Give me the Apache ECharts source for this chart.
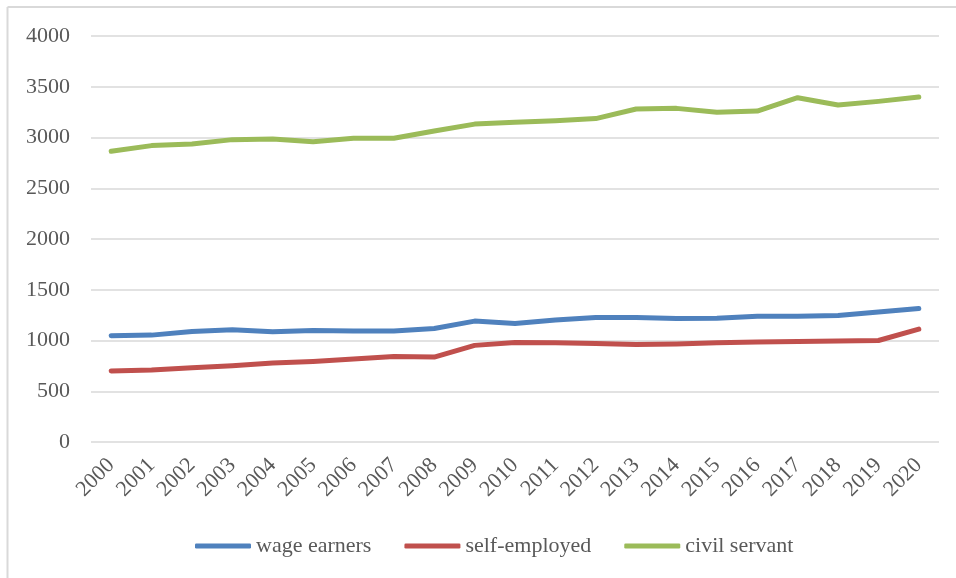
<!DOCTYPE html>
<html>
<head>
<meta charset="utf-8">
<script src="https://cdn.jsdelivr.net/npm/echarts@6/dist/echarts.min.js"></script>
<style>
html,body{margin:0;padding:0;background:#fff;}
#chart{width:956px;height:578px;}
</style>
</head>
<body>
<div id="chart"></div>
<script>
const years = ['2000','2001','2002','2003','2004','2005','2006','2007','2008','2009','2010','2011','2012','2013','2014','2015','2016','2017','2018','2019','2020'];
const wageEarners = [1046,1053,1089,1105,1086,1099,1093,1093,1119,1191,1168,1201,1227,1227,1217,1220,1240,1240,1247,1280,1316];
const selfEmployed = [699,709,731,751,778,794,817,843,837,952,981,978,971,961,965,977,984,991,994,1000,1112];
const civilServant = [2864,2920,2936,2979,2985,2959,2992,2992,3064,3132,3150,3166,3186,3281,3287,3248,3261,3392,3320,3356,3399];
const seriesNames = ['wage earners','self-employed','civil servant'];
const yTicks = {min:0, max:4000, interval:500};

const font = "'Liberation Serif', 'DejaVu Serif', serif";
const textColor = '#595959';
const chart = echarts.init(document.getElementById('chart'), null, {renderer:'canvas'});
const mk = (name, data, color) => ({
  name, type:'line', data, symbol:'none', smooth:false,
  lineStyle:{width:5, color, cap:'round', join:'round'},
  itemStyle:{color}
});
chart.setOption({
  animation:false,
  backgroundColor:'#fff',
  graphic:[
    {type:'line', shape:{x1:7.5,y1:7,x2:956,y2:7}, style:{stroke:'#d9d9d9', lineWidth:2}},
    {type:'line', shape:{x1:7.5,y1:7,x2:7.5,y2:578}, style:{stroke:'#d9d9d9', lineWidth:2}}
  ],
  grid:{left:91, right:17, top:36, bottom:136, containLabel:false},
  legend:{
    data:seriesNames, bottom:16, left:190,
    icon:'roundRect', itemWidth:56, itemHeight:5, itemGap:33,
    textStyle:{fontFamily:font, fontSize:22, color:textColor}
  },
  xAxis:{
    type:'category', data:years, boundaryGap:true,
    axisLine:{show:false}, axisTick:{show:false},
    axisLabel:{rotate:45, margin:20, fontFamily:font, fontSize:22, color:textColor, interval:0}
  },
  yAxis:{
    type:'value', min:yTicks.min, max:yTicks.max, interval:yTicks.interval,
    axisLine:{show:false}, axisTick:{show:false},
    axisLabel:{margin:21, fontFamily:font, fontSize:22, color:textColor, formatter:v => String(v)},
    splitLine:{lineStyle:{color:'#d9d9d9', width:1.5}}
  },
  series:[
    mk(seriesNames[0], wageEarners, '#4f81bd'),
    mk(seriesNames[1], selfEmployed, '#c0504d'),
    mk(seriesNames[2], civilServant, '#9bbb59')
  ]
});
</script>
</body>
</html>
